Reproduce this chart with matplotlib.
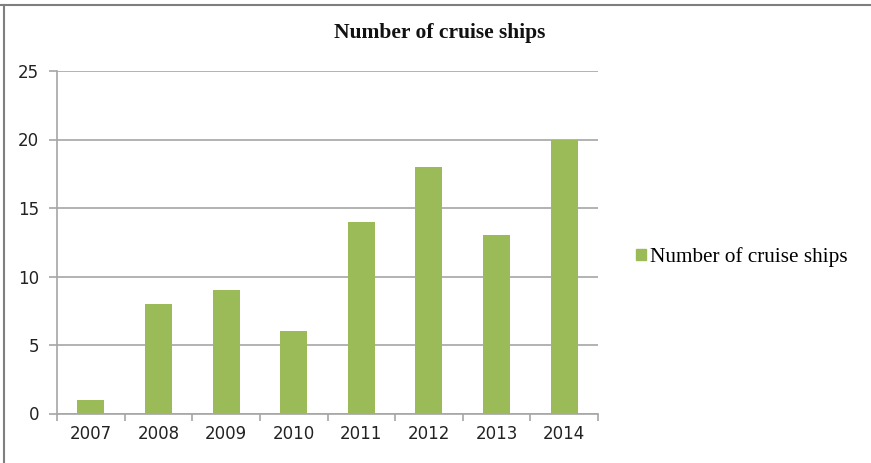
import matplotlib.pyplot as plt
from matplotlib.patches import Rectangle
from matplotlib.lines import Line2D

years = ['2007', '2008', '2009', '2010', '2011', '2012', '2013', '2014']
ships = [1, 8, 9, 6, 14, 18, 13, 20]
y_ticks = [0, 5, 10, 15, 20, 25]

bar_color = '#9BBB59'
grid_color = '#A6A6A6'

fig = plt.figure(figsize=(8.71, 4.63), dpi=100)
ax = fig.add_axes([57 / 871, 1 - 413.5 / 463, (598 - 57) / 871, (413.5 - 71) / 463])

x = list(range(len(years)))
ax.bar(x, ships, width=0.4, color=bar_color, zorder=3)

ax.set_xlim(-0.5, len(years) - 0.5)
ax.set_ylim(0, 25)
ax.set_yticks(y_ticks)
ax.set_yticklabels([str(v) for v in y_ticks])
ax.yaxis.grid(True, color=grid_color, linewidth=1.2, zorder=0)

# category labels centred, tick marks between categories
ax.set_xticks(x)
ax.set_xticklabels(years)
ax.set_xticks([i - 0.5 for i in range(len(years) + 1)], minor=True)
ax.tick_params(axis='x', which='major', length=0, pad=8, labelsize=12, labelcolor='#222222')
ax.tick_params(axis='x', which='minor', length=5, color=grid_color, width=1.2)
ax.tick_params(axis='y', length=6, color=grid_color, width=1.2, pad=7, labelsize=12, labelcolor='#222222')

for side in ['top', 'right']:
    ax.spines[side].set_visible(False)
ax.spines['left'].set_color(grid_color)
ax.spines['bottom'].set_color(grid_color)
ax.spines['left'].set_linewidth(1.2)
ax.spines['bottom'].set_linewidth(1.2)

fig.text(440 / 871, 1 - 33 / 463, 'Number of cruise ships', ha='center', va='center',
         fontsize=15.5, fontweight='bold', family='Liberation Serif', color='#111111')

legend = fig.legend(handles=[Rectangle((0, 0), 1, 1, color=bar_color)],
                    labels=['Number of cruise ships'], loc='center left',
                    bbox_to_anchor=(617 / 871, 1 - 257 / 463), frameon=False,
                    prop={'family': 'Liberation Serif', 'size': 15.3},
                    handlelength=0.45, handleheight=0.45, handletextpad=0.2)

# outer frame (top and left edges)
fig.add_artist(Line2D([0, 1], [1 - 4.5 / 463] * 2, color='#7F7F7F', linewidth=1.5))
fig.add_artist(Line2D([4 / 871] * 2, [0, 1 - 4.5 / 463], color='#7F7F7F', linewidth=1.5))

fig.savefig('out.png', dpi=100)
